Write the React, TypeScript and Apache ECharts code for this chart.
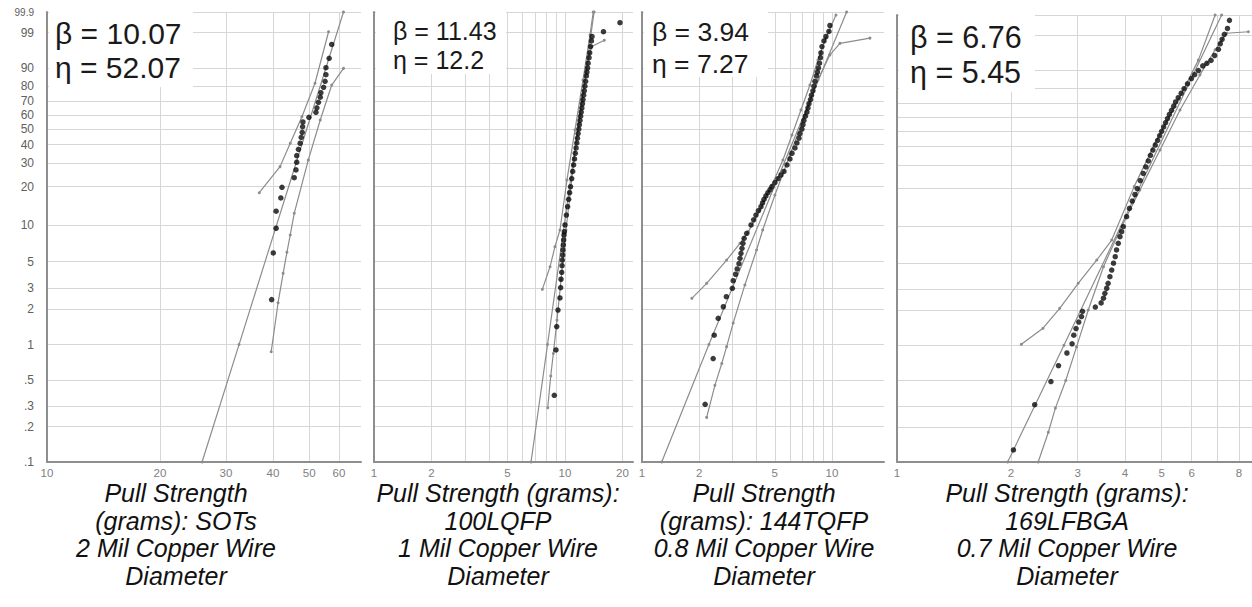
import React, { useEffect, useRef } from 'react';
import * as echarts from 'echarts';

// ---- Probability (Weibull) axis ticks, in percent ----
const yTickPercents = [99.9, 99, 90, 80, 70, 60, 50, 40, 30, 20, 10, 5, 3, 2, 1, 0.5, 0.3, 0.2, 0.1];
const yTickLabels = ['99.9', '99', '90', '80', '70', '60', '50', '40', '30', '20', '10', '5', '3', '2', '1', '.5', '.3', '.2', '.1'];

// ---- Pull-strength (log) axis gridlines and labels ----
const sotsXGrid = [20, 30, 40, 50, 60];
const sotsXLabels = [10, 20, 30, 40, 50, 60];
const lqfpXGrid = [2, 3, 4, 5, 6, 7, 8, 9, 10, 20];
const lqfpXLabels = [1, 2, 5, 10, 20];
const tqfpXGrid = [2, 3, 4, 5, 6, 7, 8, 9, 10];
const tqfpXLabels = [1, 2, 5, 10];
const lfbgaXGrid = [2, 3, 4, 5, 6, 7, 8];
const lfbgaXLabels = [1, 2, 3, 4, 5, 6, 8];

// ---- Texts ----
const panelTitles = [
  ['Pull Strength', '(grams): SOTs', '2 Mil Copper Wire', 'Diameter'],
  ['Pull Strength (grams):', '100LQFP', '1 Mil Copper Wire', 'Diameter'],
  ['Pull Strength', '(grams): 144TQFP', '0.8 Mil Copper Wire', 'Diameter'],
  ['Pull Strength (grams):', '169LFBGA', '0.7 Mil Copper Wire', 'Diameter'],
];
const betaValues = ['10.07', '11.43', '3.94', '6.76'];
const etaValues = ['52.07', '12.2', '7.27', '5.45'];

// ---- Data: [pull strength (grams), cumulative failure %] ----
const sotsPoints = [
  [39.7, 2.4], [40.1, 5.9], [40.8, 9.4], [40.8, 12.9], [42.0, 16.4], [42.3, 19.8], [45.6, 23.4], [46.1, 26.7],
  [46.3, 30.3], [46.3, 33.7], [46.8, 37.2], [47.3, 40.8], [47.6, 44.5], [47.9, 47.8], [48.0, 51.6], [48.1, 54.9],
  [49.9, 58.2], [52.1, 61.8], [52.4, 65.1], [52.9, 69.0], [53.5, 72.6], [53.7, 75.7], [54.6, 79.3], [55.1, 83.0],
  [55.4, 86.7], [55.4, 90.1], [56.5, 93.8], [57.4, 97.4],
];
const sotsFit = [[25.9, 0.1], [32.5, 1], [61.7, 99.9]];
const sotsUpper = [[36.8, 18.0], [41.8, 28.2], [44.5, 40.8], [47.8, 58.6], [51.8, 81.8], [56.3, 99.08]];
const sotsLower = [
  [39.6, 0.87], [41.3, 2.26], [42.6, 3.99], [43.6, 5.97], [44.5, 8.29], [45.6, 12.4], [49.7, 31.4], [53.5, 56.3],
  [57.4, 80.7], [61.7, 89.8],
];

const lqfpPoints = [
  [8.79, 0.37], [8.97, 0.9], [9.05, 1.42], [9.19, 1.96], [9.41, 2.48], [9.49, 3.03], [9.53, 3.56], [9.61, 4.07],
  [9.65, 4.62], [9.68, 5.15], [9.73, 5.67], [9.76, 6.24], [9.8, 6.86], [9.84, 7.54], [9.88, 8.29], [9.92, 8.82],
  [10.0, 10], [10.17, 12], [10.32, 14], [10.45, 16], [10.57, 18], [10.69, 20], [10.84, 23], [10.97, 26],
  [11.09, 29], [11.21, 32], [11.32, 35], [11.43, 38], [11.53, 41], [11.62, 44], [11.71, 47], [11.81, 50],
  [11.89, 53], [11.98, 56], [12.07, 59], [12.16, 62], [12.25, 65], [12.34, 68], [12.42, 71], [12.52, 74],
  [12.62, 77], [12.71, 80], [12.82, 83], [12.94, 86], [13.03, 88], [13.13, 90], [13.22, 92], [13.36, 94],
  [13.47, 95.5], [13.61, 97], [13.75, 98], [13.85, 98.6], [15.9, 99.08], [19.4, 99.63],
];
const lqfpFit = [[6.64, 0.1], [8.1, 1], [14.2, 99.9]];
const lqfpUpper = [
  [7.61, 2.93], [8.35, 4.53], [8.86, 6.64], [9.41, 9.1], [10.24, 22.5], [11.28, 49.4], [12.42, 83.7], [13.52, 98.8],
  [14.06, 99.9],
];
const lqfpLower = [
  [8.12, 0.29], [8.42, 0.54], [8.69, 0.84], [9.08, 1.61], [9.53, 3.51], [10.12, 9.1], [11.14, 31.4], [12.27, 70.7],
  [13.2, 93.2], [13.8, 97.0], [16.06, 98.1],
];

const tqfpPoints = [
  [2.15, 0.31], [2.37, 0.76], [2.4, 1.2], [2.52, 1.67], [2.68, 2.09], [2.78, 2.54], [2.99, 2.99], [3.02, 3.46],
  [3.11, 3.92], [3.17, 4.34], [3.24, 4.8], [3.28, 5.32], [3.32, 5.86], [3.36, 6.44], [3.4, 7.08], [3.45, 7.78],
  [3.56, 8.55], [3.75, 10], [3.87, 11], [3.98, 12], [4.1, 13], [4.23, 14], [4.31, 15], [4.39, 16], [4.49, 17],
  [4.6, 18], [4.72, 19], [4.83, 20], [5.01, 21.5], [5.2, 23], [5.39, 24.5], [5.59, 26], [5.8, 29], [6.01, 32],
  [6.16, 35], [6.39, 38], [6.54, 41], [6.71, 44], [6.79, 47], [6.95, 50], [7.04, 53], [7.12, 56], [7.25, 59],
  [7.39, 62], [7.48, 65], [7.57, 68], [7.71, 71], [7.8, 74], [7.94, 77], [8.04, 80], [8.14, 83], [8.29, 86],
  [8.39, 88], [8.49, 90], [8.6, 92], [8.7, 94], [8.75, 95.5], [8.86, 97], [9.08, 98], [9.3, 98.6], [9.64, 99.1],
  [9.76, 99.5],
];
const tqfpFit = [[1.27, 0.1], [2.25, 1.0], [11.95, 99.9]];
const tqfpUpper = [
  [1.83, 2.46], [2.19, 3.29], [2.79, 5.15], [3.28, 7.08], [3.63, 8.82], [4.18, 13.2], [4.83, 20.6], [5.52, 31.4],
  [6.16, 46.0], [6.87, 63.5], [7.66, 80.7], [8.44, 93.2], [9.3, 98.4], [10.5, 99.85],
];
const tqfpLower = [
  [2.19, 0.24], [2.42, 0.45], [2.63, 0.69], [2.79, 0.96], [3.02, 1.52], [3.48, 3.19], [4.01, 6.24], [4.32, 9.1],
  [5.01, 17.3], [6.01, 34.1], [7.21, 59.9], [8.44, 83.7], [9.76, 94.9], [11.02, 97.6], [15.85, 98.4],
];

const lfbgaPoints = [
  [2.03, 0.127], [2.31, 0.31], [2.55, 0.49], [2.67, 0.67], [2.81, 0.86], [2.9, 1.03], [2.93, 1.22], [2.97, 1.39],
  [3.02, 1.58], [3.07, 1.76], [3.09, 1.95], [3.34, 2.12], [3.46, 2.3], [3.51, 2.52], [3.54, 2.77], [3.58, 3.06],
  [3.61, 3.37], [3.65, 3.83], [3.69, 4.36], [3.73, 4.97], [3.77, 5.64], [3.8, 6.41], [3.84, 7.28], [3.88, 8.26],
  [3.92, 9.07], [3.96, 10], [4.04, 12], [4.11, 14], [4.18, 16], [4.25, 18], [4.31, 20], [4.39, 23], [4.47, 26],
  [4.54, 29], [4.61, 32], [4.67, 35], [4.74, 38], [4.81, 41], [4.88, 44], [4.94, 47], [5.0, 50], [5.06, 53],
  [5.12, 56], [5.18, 59], [5.24, 62], [5.31, 65], [5.38, 68], [5.44, 71], [5.53, 74], [5.63, 77], [5.73, 80],
  [5.85, 83], [5.99, 86], [6.11, 88], [6.25, 90], [6.42, 92], [6.58, 93], [6.75, 94], [6.9, 95.5], [7.06, 97],
  [7.14, 98], [7.22, 98.6], [7.32, 99.1], [7.46, 99.5], [7.55, 99.8],
];
const lfbgaFit = [[1.96, 0.1], [2.76, 1.0], [7.2, 99.9]];
const lfbgaUpper = [
  [2.13, 1.02], [2.43, 1.4], [2.69, 2.07], [3.01, 3.37], [3.37, 5.29], [3.69, 7.75], [4.23, 20.7], [4.8, 42.1],
  [5.53, 72.4], [6.25, 94.1], [6.92, 99.9],
];
const lfbgaLower = [
  [2.36, 0.1], [2.51, 0.18], [2.62, 0.29], [2.79, 0.5], [2.98, 0.97], [3.2, 2.0], [3.51, 4.65], [3.88, 9.36],
  [4.38, 19.5], [4.95, 38.0], [5.59, 65.2], [6.31, 87.9], [6.92, 96.9], [7.42, 99.19], [8.47, 99.3],
];

const weib = (p: number) => Math.log(-Math.log(1 - p / 100));
const lg = (x: number) => Math.log10(x);
const toXY = (arr: number[][]) => arr.map(([x, p]) => [lg(x), weib(p)]);

const FONT = '"Liberation Sans", Arial, Helvetica, sans-serif';

const panels = [
  { points: sotsPoints, fit: sotsFit, upper: sotsUpper, lower: sotsLower, xGrid: sotsXGrid, xLabels: sotsXLabels,
    left: 47, top: 12, width: 314, height: 450, xMin: 10, xMax: 68.7,
    boxW: 144, boxH: 87, tx: 55, by: 33, ey: 67, fs: 30, titleX: 176 },
  { points: lqfpPoints, fit: lqfpFit, upper: lqfpUpper, lower: lqfpLower, xGrid: lqfpXGrid, xLabels: lqfpXLabels,
    left: 374, top: 12, width: 259, height: 450, xMin: 1, xMax: 22.7,
    boxW: 130, boxH: 74, tx: 393, by: 31, ey: 60, fs: 25, titleX: 498 },
  { points: tqfpPoints, fit: tqfpFit, upper: tqfpUpper, lower: tqfpLower, xGrid: tqfpXGrid, xLabels: tqfpXLabels,
    left: 642, top: 12, width: 242, height: 450, xMin: 1, xMax: 18.8,
    boxW: 124, boxH: 77, tx: 652, by: 32, ey: 64, fs: 26.5, titleX: 764 },
  { points: lfbgaPoints, fit: lfbgaFit, upper: lfbgaUpper, lower: lfbgaLower, xGrid: lfbgaXGrid, xLabels: lfbgaXLabels,
    left: 897, top: 15, width: 355, height: 447, xMin: 1, xMax: 8.66,
    boxW: 136, boxH: 92, tx: 910, by: 37, ey: 72, fs: 30.5, titleX: 1067 },
];

function yLabelFormatter(v: number) {
  let best = 0;
  for (let i = 1; i < yTickPercents.length; i++) {
    if (Math.abs(weib(yTickPercents[i]) - v) < Math.abs(weib(yTickPercents[best]) - v)) best = i;
  }
  return best === 0 ? '{s|' + yTickLabels[best] + '}' : yTickLabels[best];
}

function xLabelFormatter(v: number) {
  const n = Math.round(Math.pow(10, v) * 100) / 100;
  return String(n);
}

function buildOption() {
  const grid: any[] = [];
  const xAxis: any[] = [];
  const yAxis: any[] = [];
  const series: any[] = [];
  const graphic: any[] = [];
  const lineColor = '#8c8c8c';

  panels.forEach((pn, i) => {
    grid.push({ left: pn.left, top: pn.top, width: pn.width, height: pn.height, containLabel: false });
    xAxis.push({
      type: 'value', gridIndex: i, min: lg(pn.xMin), max: lg(pn.xMax),
      axisLine: { show: true, onZero: false, lineStyle: { color: '#8e8e8e', width: 2 } },
      axisTick: { show: false, customValues: pn.xGrid.map(lg) },
      axisLabel: {
        show: true, customValues: pn.xLabels.map(lg), formatter: xLabelFormatter,
        color: '#808080', fontSize: 11.5, margin: 5, fontFamily: FONT,
      },
      splitLine: { show: true, lineStyle: { color: '#d6d6d6', width: 1 } },
    });
    yAxis.push({
      type: 'value', gridIndex: i, min: weib(0.1), max: weib(99.9),
      axisLine: { show: true, onZero: false, lineStyle: { color: '#8e8e8e', width: 2 } },
      axisTick: { show: false, customValues: yTickPercents.map(weib) },
      axisLabel: {
        show: i === 0, customValues: yTickPercents.map(weib), formatter: yLabelFormatter,
        color: '#606060', fontSize: 12, margin: 13, fontFamily: FONT,
        rich: { s: { fontSize: 10, color: '#606060', fontFamily: FONT } },
      },
      splitLine: { show: true, lineStyle: { color: '#d6d6d6', width: 1 } },
    });
    const lineSeries = (data: number[][], name: string) => ({
      type: 'line', name, xAxisIndex: i, yAxisIndex: i, data: toXY(data),
      symbol: 'circle', symbolSize: 3, showSymbol: true, silent: true, z: 3,
      lineStyle: { color: lineColor, width: 1.2 }, itemStyle: { color: lineColor },
    });
    series.push(lineSeries(pn.upper, 'upper' + i));
    series.push(lineSeries(pn.lower, 'lower' + i));
    series.push(lineSeries(pn.fit, 'fit' + i));
    series.push({
      type: 'scatter', xAxisIndex: i, yAxisIndex: i, data: toXY(pn.points),
      symbol: 'circle', symbolSize: 5.5, itemStyle: { color: '#0a0a0a' }, silent: true, z: 5,
    });

    graphic.push({
      type: 'rect', z: 1, silent: true,
      shape: { x: pn.left + 2, y: 0, width: pn.boxW, height: pn.boxH },
      style: { fill: '#ffffff' },
    });
    graphic.push({
      type: 'text', z: 6, silent: true, x: pn.tx, y: pn.by,
      style: { text: 'β = ' + betaValues[i], fill: '#1a1a1a', fontSize: pn.fs, fontFamily: FONT, verticalAlign: 'middle', align: 'left' },
    });
    graphic.push({
      type: 'text', z: 6, silent: true, x: pn.tx, y: pn.ey,
      style: { text: 'η = ' + etaValues[i], fill: '#1a1a1a', fontSize: pn.fs, fontFamily: FONT, verticalAlign: 'middle', align: 'left' },
    });
    panelTitles[i].forEach((line, k) => {
      graphic.push({
        type: 'text', z: 6, silent: true, x: pn.titleX, y: 493 + k * 27.7,
        style: {
          text: line, fill: '#111', fontSize: 25, fontStyle: 'italic', fontFamily: FONT,
          lineHeight: 25, align: 'center', verticalAlign: 'middle',
        },
      });
    });
  });

  return { animation: false, backgroundColor: '#ffffff', grid, xAxis, yAxis, series, graphic };
}

export default function App() {
  const ref = useRef<HTMLDivElement>(null);
  useEffect(() => {
    document.body.style.margin = '0';
    if (!ref.current) return;
    const chart = echarts.init(ref.current, undefined, { renderer: 'svg' });
    chart.setOption(buildOption());
    return () => chart.dispose();
  }, []);
  return <div ref={ref} style={{ width: 1252, height: 607 }} />;
}
